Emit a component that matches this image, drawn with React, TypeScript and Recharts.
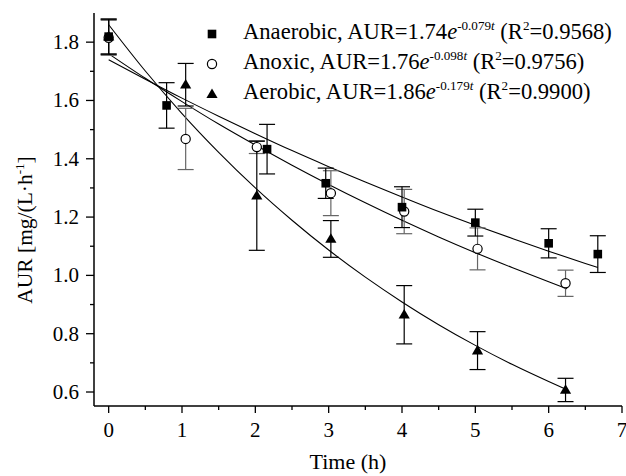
import React from 'react';
import {
  ComposedChart,
  Line,
  Scatter,
  XAxis,
  YAxis,
  ErrorBar,
} from 'recharts';

const anaerobicT = [0, 0.79, 2.16, 2.96, 4.0, 5.0, 6.0, 6.67];
const anaerobicAUR = [1.819, 1.583, 1.433, 1.316, 1.234, 1.181, 1.11, 1.073];
const anaerobicErr = [0.06, 0.078, 0.085, 0.052, 0.07, 0.046, 0.05, 0.063];

const anoxicT = [0, 1.05, 2.02, 3.03, 4.03, 5.03, 6.23];
const anoxicAUR = [1.815, 1.468, 1.44, 1.282, 1.219, 1.091, 0.973];
const anoxicErr = [0.06, 0.105, 0.022, 0.077, 0.076, 0.072, 0.045];

const aerobicT = [0, 1.05, 2.02, 3.03, 4.03, 5.03, 6.23];
const aerobicAUR = [1.819, 1.654, 1.273, 1.125, 0.865, 0.742, 0.607];
const aerobicErr = [0.06, 0.073, 0.187, 0.063, 0.1, 0.065, 0.04];

// ---- fitted curves ----
const fitAnaerobicT = [0, 0.5, 1, 1.5, 2, 2.5, 3, 3.5, 4, 4.5, 5, 5.5, 6, 6.5, 6.67];
const fitAnaerobicV = [1.74, 1.673, 1.608, 1.546, 1.486, 1.428, 1.373, 1.32, 1.269, 1.219, 1.172, 1.127, 1.083, 1.041, 1.027];
const fitOtherT = [0, 0.5, 1, 1.5, 2, 2.5, 3, 3.5, 4, 4.5, 5, 5.5, 6, 6.25];
const fitAnoxicV = [1.76, 1.676, 1.596, 1.519, 1.447, 1.378, 1.312, 1.249, 1.189, 1.132, 1.078, 1.027, 0.978, 0.954];
const fitAerobicV = [1.86, 1.701, 1.555, 1.422, 1.3, 1.189, 1.087, 0.994, 0.909, 0.831, 0.76, 0.695, 0.636, 0.608];

// ---- axis ticks ----
const xTicks = [0, 0.5, 1, 1.5, 2, 2.5, 3, 3.5, 4, 4.5, 5, 5.5, 6, 6.5, 7];
const yTicks = [0.6, 0.7, 0.8, 0.9, 1.0, 1.1, 1.2, 1.3, 1.4, 1.5, 1.6, 1.7, 1.8];
const topTicks = [1, 2, 3, 4, 5, 6, 7, 8, 9];
const rightTicks = [1, 2, 3, 4, 5, 6, 7, 8, 9, 10];

const legendItems = [
  { name: 'Anaerobic', a: '1.74', k: '-0.079', r2: '0.9568', marker: 'square' },
  { name: 'Anoxic', a: '1.76', k: '-0.098', r2: '0.9756', marker: 'circle' },
  { name: 'Aerobic', a: '1.86', k: '-0.179', r2: '0.9900', marker: 'triangle' },
];

const zip = (t: number[], v: number[], e?: number[]) =>
  t.map((tt, i) => (e ? { t: tt, v: v[i], e: e[i] } : { t: tt, v: v[i] }));

const anaerobicData = zip(anaerobicT, anaerobicAUR, anaerobicErr);
const anoxicData = zip(anoxicT, anoxicAUR, anoxicErr);
const aerobicData = zip(aerobicT, aerobicAUR, aerobicErr);
const fitAnaerobic = zip(fitAnaerobicT, fitAnaerobicV);
const fitAnoxic = zip(fitOtherT, fitAnoxicV);
const fitAerobic = zip(fitOtherT, fitAerobicV);

const FONT = '"Liberation Serif", "Times New Roman", serif';

const SquareShape = (p: any) => (
  <rect x={p.cx - 4.3} y={p.cy - 4.3} width={8.6} height={8.6} fill="#000" />
);
const CircleShape = (p: any) => (
  <circle cx={p.cx} cy={p.cy} r={4.6} fill="#fff" stroke="#000" strokeWidth={1.2} />
);
const TriangleShape = (p: any) => (
  <polygon
    points={`${p.cx},${p.cy - 5.8} ${p.cx - 5.6},${p.cy + 3.8} ${p.cx + 5.6},${p.cy + 3.8}`}
    fill="#000"
  />
);

const XTick = (props: any) => {
  const { x, y, payload } = props;
  const v = payload.value;
  const major = Math.abs(v - Math.round(v)) < 1e-6;
  return (
    <g>
      <line x1={x} x2={x} y1={y} y2={y + (major ? 7 : 4)} stroke="#000" strokeWidth={1.3} />
      {major && (
        <text x={x} y={y + 31} textAnchor="middle" fontSize={21} fontFamily={FONT} fill="#000">
          {v}
        </text>
      )}
    </g>
  );
};

const YTick = (props: any) => {
  const { x, y, payload } = props;
  const v = payload.value;
  const major = Math.round(v * 10) % 2 === 0;
  return (
    <g>
      <line x1={x} x2={x - (major ? 8 : 4)} y1={y} y2={y} stroke="#000" strokeWidth={1.3} />
      {major && (
        <text x={x - 15} y={y + 7} textAnchor="end" fontSize={21} fontFamily={FONT} fill="#000">
          {v.toFixed(1)}
        </text>
      )}
    </g>
  );
};

const XLabel = () => (
  <text x={348} y={469} textAnchor="middle" fontSize={22} fontFamily={FONT} fill="#000">
    Time (h)
  </text>
);

const YLabel = () => (
  <text
    transform="translate(32,230) rotate(-90)"
    textAnchor="middle"
    fontSize={21.5}
    fontFamily={FONT}
    fill="#000"
  >
    AUR [mg/(L·h
    <tspan dy={-8} fontSize={13}>-1</tspan>
    <tspan dy={8}>]</tspan>
  </text>
);

const LegendMarker = ({ kind }: { kind: string }) => (
  <svg width={14} height={14} style={{ display: 'inline-block', verticalAlign: 'middle' }}>
    {kind === 'square' && <rect x={2.7} y={2.7} width={8.6} height={8.6} fill="#000" />}
    {kind === 'circle' && <circle cx={7} cy={7} r={4.6} fill="#fff" stroke="#000" strokeWidth={1.2} />}
    {kind === 'triangle' && <polygon points="7,1.5 1.4,11.1 12.6,11.1" fill="#000" />}
  </svg>
);

const sup: React.CSSProperties = { fontSize: '0.58em', verticalAlign: 'super', lineHeight: 0 };

export default function App() {
  return (
    <div style={{ position: 'absolute', left: 0, top: 0, width: 626, height: 476, background: '#fff' }}>
      <ComposedChart
        width={626}
        height={476}
        margin={{ top: 13, right: 4, bottom: 0, left: 0 }}
      >
        <XAxis
          xAxisId="main"
          dataKey="t"
          type="number"
          domain={[-0.2, 7]}
          ticks={xTicks}
          interval={0}
          height={70}
          tickSize={0}
          tickMargin={0}
          tickLine={false}
          tick={<XTick />}
          axisLine={{ stroke: '#000', strokeWidth: 1.5 }}
          allowDataOverflow
          label={<XLabel />}
        />
        <XAxis
          xAxisId="top"
          orientation="top"
          type="number"
          domain={[0, 10]}
          ticks={topTicks}
          interval={0}
          height={0}
          tickSize={3}
          tickFormatter={() => ''}
          tickLine={{ stroke: '#000' }}
          axisLine={{ stroke: '#000', strokeWidth: 1.5 }}
          allowDataOverflow
        />
        <YAxis
          yAxisId="main"
          type="number"
          domain={[0.552, 1.9]}
          ticks={yTicks}
          interval={0}
          width={94}
          tickSize={0}
          tickMargin={0}
          tickLine={false}
          tick={<YTick />}
          axisLine={{ stroke: '#000', strokeWidth: 1.5 }}
          allowDataOverflow
          label={<YLabel />}
        />
        <YAxis
          yAxisId="right"
          orientation="right"
          type="number"
          domain={[0, 11]}
          ticks={rightTicks}
          interval={0}
          width={0}
          tickSize={3}
          tickFormatter={() => ''}
          tickLine={{ stroke: '#000' }}
          axisLine={{ stroke: '#000', strokeWidth: 1.5 }}
          allowDataOverflow
        />

        <Line
          xAxisId="main"
          yAxisId="main"
          data={fitAnaerobic}
          dataKey="v"
          type="monotone"
          dot={false}
          stroke="#000"
          strokeWidth={1.1}
          isAnimationActive={false}
        />
        <Line
          xAxisId="main"
          yAxisId="main"
          data={fitAnoxic}
          dataKey="v"
          type="monotone"
          dot={false}
          stroke="#000"
          strokeWidth={1.1}
          isAnimationActive={false}
        />
        <Line
          xAxisId="main"
          yAxisId="main"
          data={fitAerobic}
          dataKey="v"
          type="monotone"
          dot={false}
          stroke="#000"
          strokeWidth={1.1}
          isAnimationActive={false}
        />

        <Scatter
          xAxisId="main"
          yAxisId="main"
          data={anoxicData}
          dataKey="v"
          shape={<CircleShape />}
          isAnimationActive={false}
        >
          <ErrorBar dataKey="e" direction="y" width={8} stroke="#666" strokeWidth={1.2} isAnimationActive={false} />
        </Scatter>
        <Scatter
          xAxisId="main"
          yAxisId="main"
          data={aerobicData}
          dataKey="v"
          shape={<TriangleShape />}
          isAnimationActive={false}
        >
          <ErrorBar dataKey="e" direction="y" width={8} stroke="#000" strokeWidth={1.2} isAnimationActive={false} />
        </Scatter>
        <Scatter
          xAxisId="main"
          yAxisId="main"
          data={anaerobicData}
          dataKey="v"
          shape={<SquareShape />}
          isAnimationActive={false}
        >
          <ErrorBar dataKey="e" direction="y" width={8} stroke="#000" strokeWidth={1.2} isAnimationActive={false} />
        </Scatter>
      </ComposedChart>

      <div
        style={{
          position: 'absolute',
          left: 205,
          top: 17,
          fontFamily: FONT,
          fontSize: 22.6,
          color: '#000',
          whiteSpace: 'nowrap',
        }}
      >
        {legendItems.map((it) => (
          <div key={it.name} style={{ height: 30, lineHeight: '30px' }}>
            <LegendMarker kind={it.marker} />
            <span style={{ marginLeft: 24 }}>
              {it.name}, AUR={it.a}
              <i>e</i>
              <span style={sup}>
                {it.k}
                <i>t</i>
              </span>{' '}
              (R<span style={sup}>2</span>={it.r2})
            </span>
          </div>
        ))}
      </div>
    </div>
  );
}
